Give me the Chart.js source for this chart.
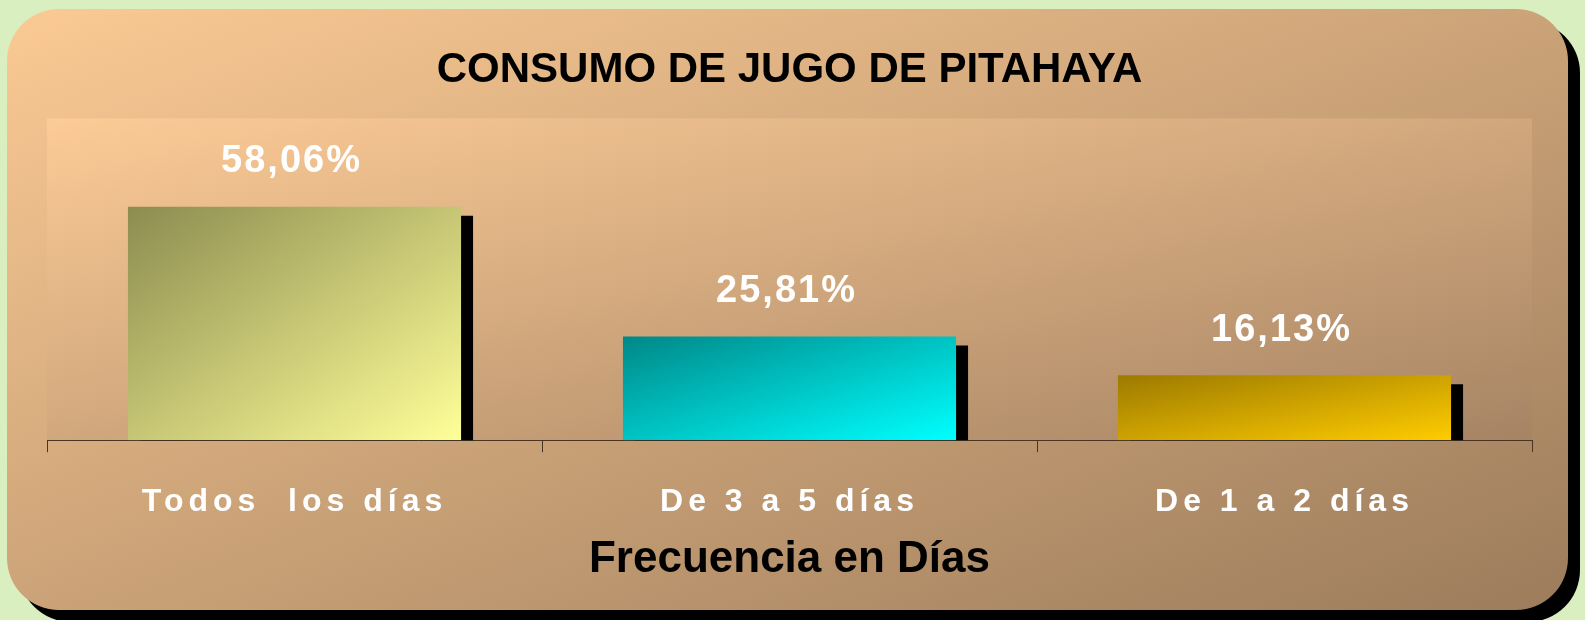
<!DOCTYPE html>
<html>
<head>
<meta charset="utf-8">
<script src="https://cdn.jsdelivr.net/npm/chart.js@4.4.1/dist/chart.umd.min.js"></script>
<style>
html,body{margin:0;padding:0;background:#d9efc0;}
#wrap{width:1585px;height:620px;position:relative;}
</style>
</head>
<body>
<div id="wrap"><canvas id="c"></canvas></div>
<script>
// ---- data ----
const categories = ['Todos  los días', 'De 3 a 5 días', 'De 1 a 2 días'];
const percentages = [58.06, 25.81, 16.13];
const valueLabels = ['58,06%', '25,81%', '16,13%'];
const chartTitle = 'CONSUMO DE JUGO DE PITAHAYA';
const axisTitle = 'Frecuencia en Días';
const yMin = 0;
const yMax = 80;

// ---- styles ----
const barDark = ['#8c8c50', '#008888', '#9c7a00'];
const barLight = ['#ffff99', '#00ffff', '#ffcc00'];
const FONT = '"Liberation Sans", Arial, Helvetica, sans-serif';
const CAT_PCT = 0.673;

// gradient whose iso-lines run corner to corner (normalized diagonal)
function diagGradient(ctx, x0, y0, w, h, c0, c1) {
  const t = 2 / (1 / (w * w) + 1 / (h * h));
  const g = ctx.createLinearGradient(x0, y0, x0 + t / w, y0 + t / h);
  g.addColorStop(0, c0);
  g.addColorStop(1, c1);
  return g;
}

const decor = {
  id: 'decor',
  beforeDraw(chart) {
    const {ctx, chartArea: a} = chart;
    ctx.save();
    ctx.fillStyle = '#d9efc0';
    ctx.fillRect(0, 0, chart.width, chart.height);
    const L = 7, T = 9, R = 1568, B = 610, r = 52;
    ctx.fillStyle = '#000';
    ctx.beginPath();
    ctx.roundRect(L + 12, T + 12, R - L, B - T, r);
    ctx.fill();
    ctx.fillStyle = diagGradient(ctx, L, T, R - L, B - T, '#fbca94', '#9c7c5c');
    ctx.beginPath();
    ctx.roundRect(L, T, R - L, B - T, r);
    ctx.fill();
    ctx.fillStyle = diagGradient(ctx, a.left, a.top, a.right - a.left, a.bottom - a.top, '#fccb96', '#a68464');
    ctx.fillRect(a.left, a.top, a.right - a.left, a.bottom - a.top);
    ctx.restore();
  },
  beforeDatasetsDraw(chart) {
    const ctx = chart.ctx;
    ctx.save();
    ctx.shadowColor = '#000';
    ctx.shadowOffsetX = 12;
    ctx.shadowOffsetY = 9;
    ctx.shadowBlur = 0;
  },
  afterDatasetsDraw(chart) {
    const ctx = chart.ctx;
    ctx.restore();
    ctx.save();
    ctx.font = 'bold 38px ' + FONT;
    ctx.fillStyle = '#ffffff';
    ctx.textAlign = 'center';
    ctx.textBaseline = 'middle';
    ctx.letterSpacing = '2px';
    chart.getDatasetMeta(0).data.forEach((el, i) => {
      ctx.fillText(valueLabels[i], el.x - 3, el.y - 45);
    });
    ctx.restore();
    ctx.letterSpacing = '5px';
  },
  afterDraw(chart) {
    chart.ctx.letterSpacing = '0px';
  }
};

new Chart(document.getElementById('c'), {
  type: 'bar',
  data: {
    labels: categories,
    datasets: [{
      data: percentages,
      clip: 0,
      borderWidth: 0,
      categoryPercentage: CAT_PCT,
      barPercentage: 1,
      backgroundColor: (c) => {
        const chart = c.chart;
        const i = c.dataIndex;
        if (!chart.chartArea || i === undefined) return barLight[0];
        const xs = chart.scales.x, ys = chart.scales.y;
        const cx = xs.getPixelForValue(i);
        const w = xs.width / categories.length * CAT_PCT;
        const top = ys.getPixelForValue(percentages[i]);
        const bot = ys.getPixelForValue(0);
        return diagGradient(chart.ctx, cx - w / 2, top, w, Math.max(1, bot - top), barDark[i], barLight[i]);
      }
    }]
  },
  options: {
    responsive: true,
    maintainAspectRatio: false,
    animation: false,
    layout: {padding: {left: 47, right: 53, top: 45, bottom: 33.6}},
    plugins: {
      legend: {display: false},
      tooltip: {enabled: false},
      title: {
        display: true,
        text: chartTitle,
        color: '#000000',
        font: {family: FONT, size: 42, weight: 'bold', lineHeight: 1.2},
        padding: {top: 0, bottom: 23}
      }
    },
    scales: {
      x: {
        grid: {display: true, drawOnChartArea: false, drawTicks: true, tickLength: 12, color: '#4a3422', offset: true},
        border: {display: true, color: '#4a3422', width: 1},
        ticks: {color: '#ffffff', font: {family: FONT, size: 32, weight: 'bold', lineHeight: 1.2}, padding: 31, z: 1, maxRotation: 0, autoSkip: false},
        title: {display: true, text: axisTitle, color: '#000000', font: {family: FONT, size: 44, weight: 'bold', lineHeight: 1.2}, padding: {top: -19, bottom: 0}}
      },
      y: {
        display: false,
        min: yMin,
        max: yMax
      }
    }
  },
  plugins: [decor]
});
</script>
</body>
</html>
